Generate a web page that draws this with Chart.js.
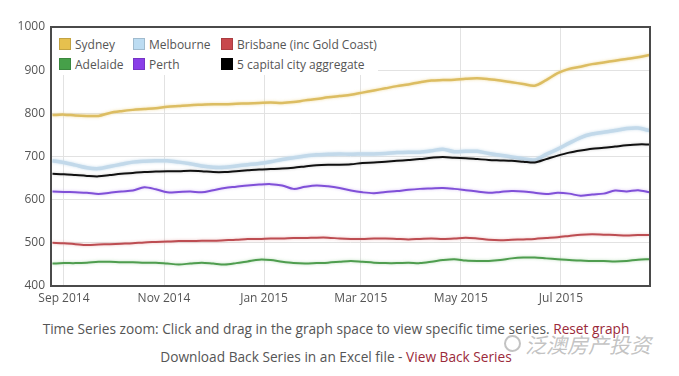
<!DOCTYPE html>
<html lang="en">
<head>
  <meta charset="UTF-8">
  <title>Daily Home Value Index</title>
  <script src="https://cdn.jsdelivr.net/npm/chart.js"></script>
  <style>
    body {
      margin: 0;
      background: #fff;
      font-family: "Open Sans", sans-serif;
    }
    .wrap {
      position: relative;
      width: 679px;
      height: 376px;
      overflow: hidden;
    }
    #indexChart {
      position: absolute;
      left: 0;
      top: 0;
    }
    .legend {
      position: absolute;
      left: 52px;
      top: 28px;
      width: 326px;
      height: 47px;
      background: #fff;
    }
    .legend-item {
      position: absolute;
      font-size: 12px;
      color: #555;
      line-height: 14px;
      white-space: nowrap;
    }
    .legend-item span {
      display: inline-block;
      width: 10px;
      height: 10px;
      margin-right: 4px;
      vertical-align: -1px;
      border: 1px solid rgba(0,0,0,0.15);
    }
    .note {
      position: absolute;
      left: 0;
      width: 672px;
      text-align: center;
      font-size: 13.7px;
      color: #555;
    }
    .note a { color: #9b2a3a; text-decoration: none; }
    .mark {
      position: absolute;
      left: 504px;
      top: 329px;
      font-family: "Noto Sans CJK SC", sans-serif;
      font-size: 21px;
      color: rgba(175,175,175,0.75);
      font-style: italic;
      white-space: nowrap;
    }
    .mark i {
      display: inline-block;
      width: 13px;
      height: 13px;
      border: 2px solid rgba(175,175,175,0.75);
      border-radius: 50%;
      margin-right: 4px;
      vertical-align: 1px;
    }
  </style>
</head>
<body>
  <div class="wrap">
    <canvas id="indexChart" width="679" height="310"></canvas>
    <div class="legend" id="legend"></div>
    <div class="note" style="top:319px">Time Series zoom: Click and drag in the graph space to view specific time series. <a>Reset graph</a></div>
    <div class="note" style="top:347px">Download Back Series in an Excel file - <a>View Back Series</a></div>
    <div class="mark"><i></i>泛澳房产投资</div>
  </div>

  <script>
    // days counted from 1 Sep 2014, one reading a week
    const semanas = Array.from({ length: 53 }, (_, i) => -7 + 7 * i);

    const tickDias = [0, 61, 122, 181, 242, 303];
    const tickRotulos = ['Sep 2014', 'Nov 2014', 'Jan 2015', 'Mar 2015', 'May 2015', 'Jul 2015'];

    const cidades = ['Sydney', 'Melbourne', 'Brisbane (inc Gold Coast)', 'Adelaide', 'Perth', '5 capital city aggregate'];

    const sydney = [796, 797, 795, 794, 794, 801, 805, 808, 810, 812,
      815, 817, 819, 820, 821, 821, 822, 823, 824, 825,
      824, 826, 830, 833, 837, 840, 843, 848, 853, 858,
      863, 867, 872, 876, 877, 878, 880, 881, 879, 876,
      872, 868, 864, 877, 893, 903, 908, 914, 918, 922,
      926, 930, 935];
    const melbourne = [690, 686, 680, 674, 672, 677, 682, 687, 689, 690,
      690, 687, 683, 678, 675, 675, 678, 681, 684, 688,
      693, 697, 701, 704, 705, 706, 705, 706, 706, 707,
      709, 710, 710, 713, 717, 711, 712, 712, 707, 703,
      699, 695, 692, 705, 717, 731, 744, 752, 756, 760,
      765, 766, 760];
    const brisbane = [500, 499, 497, 495, 496, 497, 498, 499, 501, 502,
      503, 504, 504, 505, 505, 506, 507, 509, 509, 510,
      510, 511, 511, 512, 512, 510, 509, 509, 510, 510,
      509, 508, 509, 510, 509, 510, 512, 510, 507, 506,
      507, 508, 509, 511, 513, 516, 519, 520, 519, 518,
      517, 518, 518];
    const adelaide = [452, 453, 453, 454, 456, 456, 455, 455, 454, 454,
      452, 450, 452, 454, 452, 450, 453, 457, 461, 460,
      456, 453, 452, 453, 454, 456, 458, 456, 454, 453,
      453, 454, 453, 456, 460, 462, 459, 458, 458, 460,
      464, 466, 466, 464, 462, 460, 459, 458, 458, 457,
      458, 461, 462];
    const perth = [619, 618, 617, 616, 613, 616, 619, 621, 629, 624,
      617, 618, 619, 617, 622, 627, 630, 633, 635, 636,
      633, 625, 630, 633, 631, 627, 621, 617, 615, 618,
      620, 623, 625, 626, 627, 625, 622, 619, 616, 618,
      620, 619, 616, 613, 616, 614, 609, 612, 614, 621,
      619, 622, 617];
    const agregado = [660, 659, 657, 655, 654, 657, 660, 662, 664, 665,
      666, 666, 667, 666, 664, 664, 666, 668, 670, 671,
      672, 674, 677, 680, 681, 681, 682, 685, 686, 688,
      690, 692, 694, 697, 699, 697, 696, 694, 692, 691,
      690, 688, 686, 694, 702, 709, 714, 718, 720, 723,
      726, 728, 728];

    const series = [sydney, melbourne, brisbane, adelaide, perth, agregado];
    const cores = ['#dcbd62', '#c2d9ea', '#bd4d52', '#4f9d4f', '#8050d8', '#111111'];
    const halos = ['rgba(235,205,120,0.7)', 'rgba(195,218,235,0.9)', 'rgba(225,150,150,0.6)',
      'rgba(140,200,140,0.6)', 'rgba(185,150,240,0.6)', 'rgba(0,0,0,0.2)'];
    const caixas = ['#e6c04e', '#bcdcf2', '#c8484d', '#46a049', '#8a3ee8', '#000000'];
    const larguras = [2.5, 3.5, 2, 2, 2, 2];

    // legend drawn over the plot, like the original
    const legendPos = [[7, 10], [81, 10], [169, 10], [7, 30], [81, 30], [169, 30]];
    const legenda = document.getElementById('legend');
    cidades.forEach((nome, i) => {
      const d = document.createElement('div');
      d.className = 'legend-item';
      d.style.left = legendPos[i][0] + 'px';
      d.style.top = legendPos[i][1] + 'px';
      d.innerHTML = '<span style="background:' + caixas[i] + '"></span>' + nome;
      legenda.appendChild(d);
    });

    const moldura = {
      id: 'moldura',
      beforeDatasetDraw(chart, args) {
        const ds = chart.data.datasets[args.index];
        chart.ctx.save();
        chart.ctx.shadowColor = ds.halo;
        chart.ctx.shadowBlur = 3;
      },
      afterDatasetDraw(chart) {
        chart.ctx.restore();
      },
      afterDraw(chart) {
        const a = chart.chartArea;
        const ctx = chart.ctx;
        ctx.save();
        ctx.strokeStyle = '#4a4a4a';
        ctx.lineWidth = 2;
        ctx.strokeRect(a.left, a.top, a.right - a.left, a.bottom - a.top);
        ctx.restore();
      }
    };

    // aggregate first so it sits on top
    const ordem = [5, 0, 1, 4, 2, 3];
    const datasets = ordem.map(i => ({
      label: cidades[i],
      data: series[i].map((v, k) => ({ x: semanas[k], y: v })),
      borderColor: cores[i],
      halo: halos[i],
      borderWidth: larguras[i],
      pointRadius: 0,
      tension: 0.3,
      fill: false
    }));

    new Chart(document.getElementById('indexChart'), {
      type: 'line',
      data: { datasets },
      plugins: [moldura],
      options: {
        responsive: false,
        animation: false,
        layout: { padding: { top: 27, right: 29, left: 0, bottom: 0 } },
        plugins: {
          legend: { display: false },
          tooltip: { enabled: false }
        },
        scales: {
          x: {
            type: 'linear',
            min: -7.9,
            max: 357.3,
            afterBuildTicks: s => { s.ticks = tickDias.map(v => ({ value: v })); },
            afterFit: s => { s.height = 24; },
            grid: { color: '#e2e2e2', drawTicks: false },
            border: { display: false },
            ticks: {
              padding: 5,
              color: '#555',
              font: { family: 'Open Sans', size: 12 },
              maxRotation: 0,
              callback: v => tickRotulos[tickDias.indexOf(v)]
            }
          },
          y: {
            min: 400,
            max: 1000,
            afterFit: s => { s.width = 51; },
            grid: { color: '#e2e2e2', drawTicks: false },
            border: { display: false },
            ticks: {
              stepSize: 100,
              padding: 6,
              color: '#555',
              font: { family: 'Open Sans', size: 12 },
              callback: v => String(v)
            }
          }
        }
      }
    });
  </script>
</body>
</html>
